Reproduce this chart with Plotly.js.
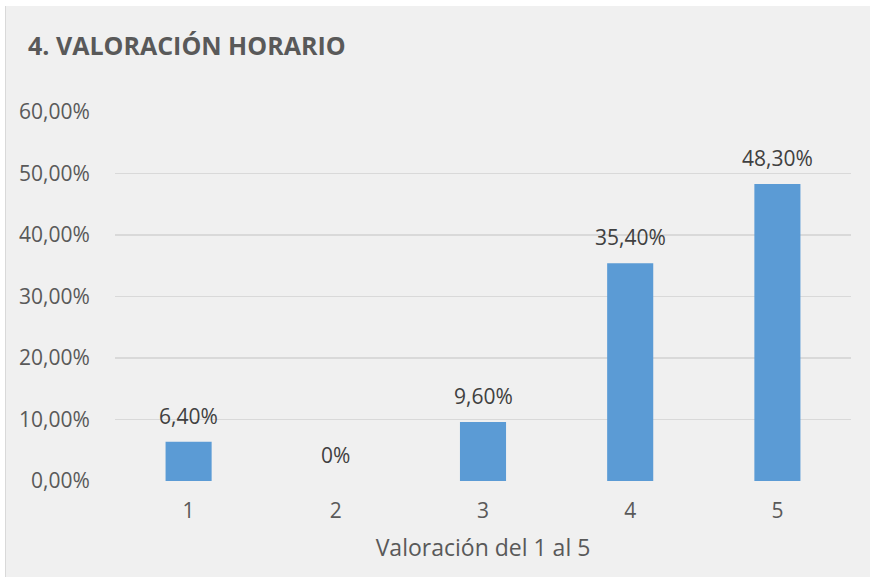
<!DOCTYPE html>
<html><head><meta charset="utf-8">
<script src="https://cdn.plot.ly/plotly-3.0.1.min.js"></script>
<style>
html,body{margin:0;padding:0;background:#ffffff;width:870px;height:577px;overflow:hidden;}
#chart{position:absolute;left:5px;top:6px;width:865px;height:571px;border-left:1px solid #d9d9d9;box-sizing:border-box;}
</style></head>
<body><div id="chart"></div>
<script>
const categories = ['1','2','3','4','5'];
const values = [6.4, 0, 9.6, 35.4, 48.3];
const valueLabels = ['6,40%','0%','9,60%','35,40%','48,30%'];
const yTickVals = [0,10,20,30,40,50,60];
const yTickText = ['0,00%','10,00%','20,00%','30,00%','40,00%','50,00%','60,00%'];

const font = '"Open Sans", sans-serif';

const trace = {
  type:'bar', x:categories, y:values,
  marker:{color:'#5b9bd5'}, hoverinfo:'skip'
};
const annotations = categories.map((c,i)=>({
  x:i, y:values[i], xref:'x', yref:'y', text:valueLabels[i],
  showarrow:false, yanchor:'bottom', yshift:10,
  font:{family:font, size:21, color:'#404040'}
}));
const layout = {
  width:864, height:571,
  paper_bgcolor:'#f0f0f0', plot_bgcolor:'#f0f0f0',
  margin:{l:109, r:19, t:106, b:96},
  bargap:0.687,
  showlegend:false,
  title:{text:'<b>4. VALORACIÓN HORARIO</b>', x:0, xref:'container', xanchor:'left', y:1, yref:'container', yanchor:'top',
    pad:{l:22, t:31}, font:{family:font, size:25, color:'#595959'}},
  xaxis:{type:'category', range:[-0.5,4.5], showgrid:false, zeroline:false, showline:false,
    ticks:'outside', ticklen:11, tickcolor:'rgba(0,0,0,0)',
    tickfont:{family:font, size:21, color:'#595959'},
    title:{text:'Valoración del 1 al 5', standoff:16, font:{family:font, size:23, color:'#595959'}}},
  yaxis:{range:[0,60], tickvals:yTickVals, ticktext:yTickText,
    showgrid:true, gridcolor:'#d9d9d9', gridwidth:1.5, zeroline:false, showline:false,
    ticks:'outside', ticklen:20, tickcolor:'rgba(0,0,0,0)',
    tickfont:{family:font, size:21, color:'#595959'}},
  annotations:annotations
};
Plotly.newPlot('chart',[trace],layout,{displayModeBar:false, staticPlot:true});
</script></body></html>
